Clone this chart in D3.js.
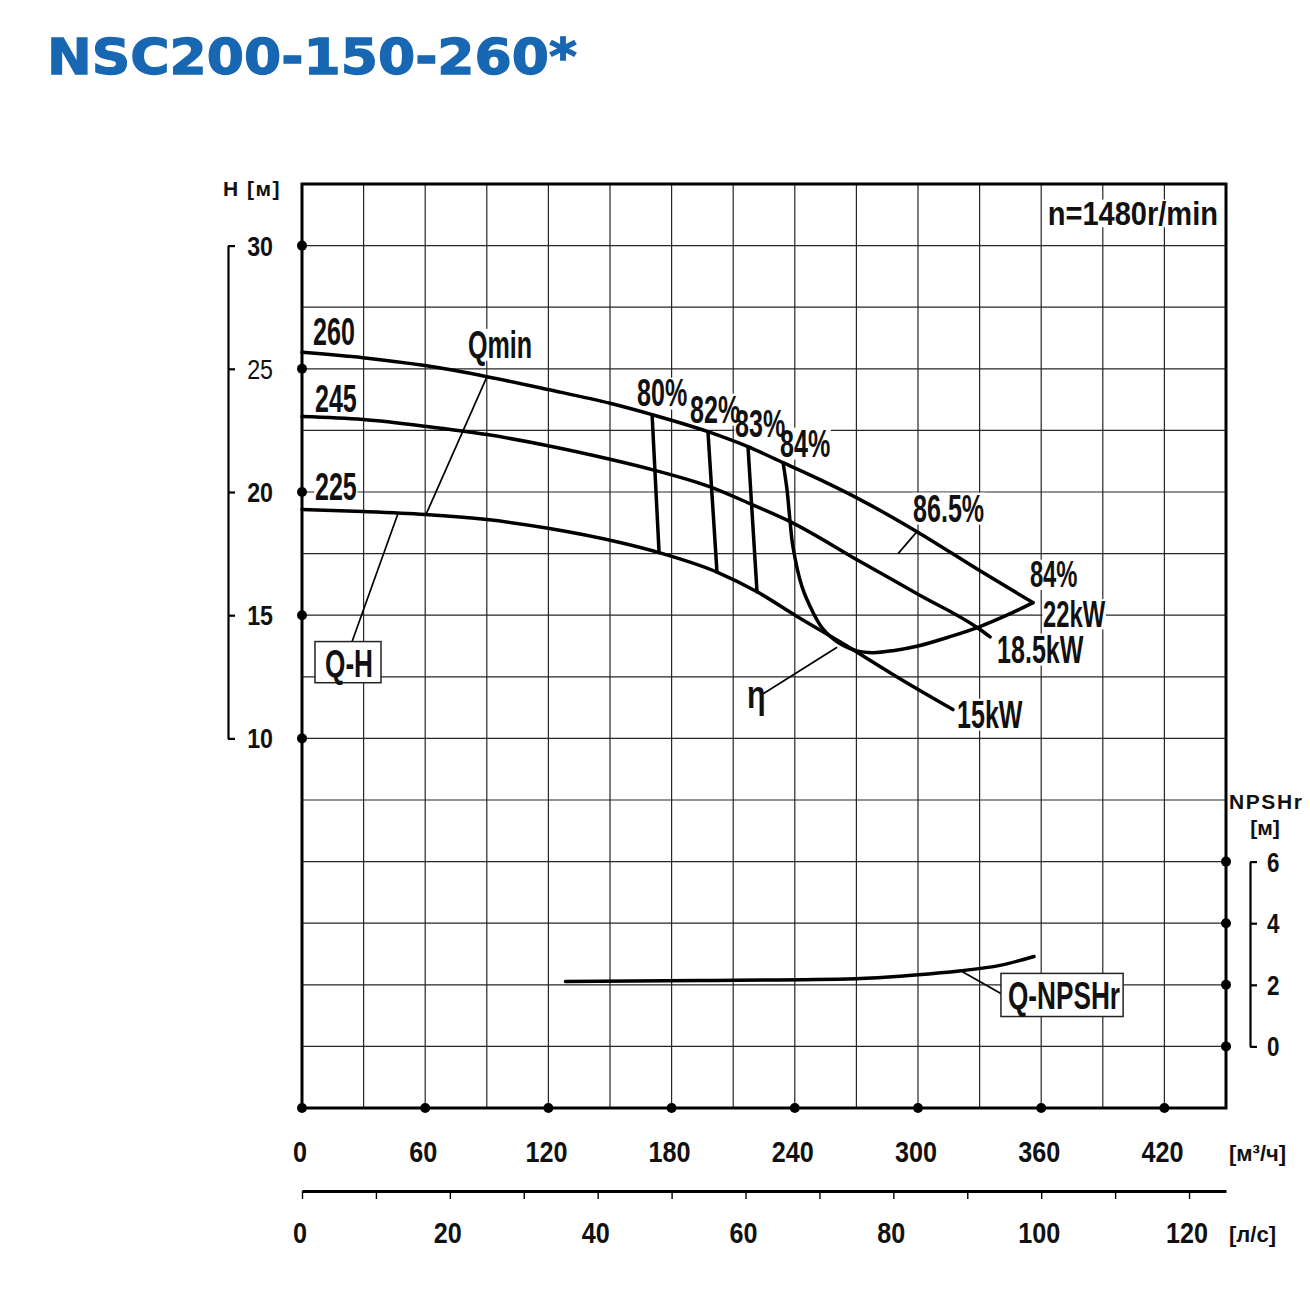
<!DOCTYPE html>
<html lang="ru">
<head>
<meta charset="UTF-8">
<title>NSC200-150-260*</title>
<script src="https://cdnjs.cloudflare.com/ajax/libs/d3/7.8.5/d3.min.js"></script>
<style>
  body { margin: 0; background: #fff; }
  svg text { font-family: "Liberation Sans", Arial, sans-serif; font-weight: bold; fill: #111; }
  .grid line { stroke: #262626; stroke-width: 1.2; }
  .curve { fill: none; stroke: #000; stroke-width: 3.5; stroke-linecap: round; }
  .leader { fill: none; stroke: #000; stroke-width: 1.7; }
</style>
</head>
<body>
<svg id="chart" width="1310" height="1295"></svg>
<script>
// ---- data ----
const qTicks = [0, 60, 120, 180, 240, 300, 360, 420];     // m3/h
const lsTicks = [0, 20, 40, 60, 80, 100, 120];             // l/s
const lsMinor = d3.range(0, 121, 10);
const hTicks = [10, 15, 20, 25, 30];                       // m
const npshTicks = [0, 2, 4, 6];                            // m

// Q-H curves for impeller diameters
const q260 = [0, 29.7, 59.9, 90.1, 119.8, 150.0, 170.5, 197.7, 217.2, 234.3, 252.3, 271.8, 299.5, 330.2, 356.0];
const h260 = [25.67, 25.45, 25.13, 24.68, 24.16, 23.60, 23.14, 22.45, 21.84, 21.19, 20.50, 19.69, 18.39, 16.80, 15.51];
const q245 = [0, 29.7, 59.9, 90.1, 119.8, 150.0, 170.9, 199.7, 219.2, 237.7, 271.8, 300.0, 330.2, 335.1];
const h245 = [23.06, 22.94, 22.67, 22.33, 21.88, 21.33, 20.90, 20.18, 19.49, 18.80, 17.18, 15.85, 14.42, 14.12];
const q225 = [0, 29.7, 59.9, 90.1, 119.8, 154.9, 173.9, 202.1, 221.6, 241.1, 262.0, 291.2, 317.0];
const h225 = [19.29, 19.21, 19.09, 18.88, 18.53, 17.95, 17.54, 16.75, 15.95, 14.95, 13.92, 12.42, 11.17];

// iso-efficiency lines (top point, bottom point)
const effNames = ["80%", "82%", "83%"];
const effQ = [[170.5, 173.9], [197.7, 202.1], [217.2, 221.6]];
const effH = [[23.14, 17.54], [22.45, 16.75], [21.84, 15.95]];

// efficiency curve (84% ... best 86.5% ... 84%)
const qEta = [234.3, 236.2, 237.7, 239.1, 243.5, 248.9, 253.2, 260.6, 270.3, 278.1, 287.8, 300.0, 315.6, 330.2, 343.3, 356.0];
const hEta = [21.19, 20.10, 18.80, 17.78, 16.16, 15.11, 14.50, 13.92, 13.55, 13.48, 13.56, 13.75, 14.13, 14.54, 15.00, 15.51];

// NPSHr curve
const qNpsh = [128.3, 193.8, 269.8, 298.5, 320.0, 339.9, 356.5];
const npsh = [2.11, 2.14, 2.20, 2.32, 2.45, 2.63, 2.92];

// ---- layout ----
const svg = d3.select("#chart");
const x = d3.scaleLinear().domain([0, 450]).range([302, 1226]);
const yH = d3.scaleLinear().domain([-5, 32.5]).range([1108, 184]);
const yN = d3.scaleLinear().domain([-2, 28]).range([1108, 184]);
const xLs = d3.scaleLinear().domain([0, 125]).range([302, 1226]);

// title
svg.append("text")
  .attr("x", 47).attr("y", 74)
  .attr("textLength", 530).attr("lengthAdjust", "spacingAndGlyphs")
  .style("font-family", "'DejaVu Sans', sans-serif")
  .style("font-size", "50px").style("font-weight", "900")
  .style("fill", "#1767b3").style("stroke", "#1767b3").style("stroke-width", 1.3)
  .text("NSC200-150-260*");

const gridLayer = svg.append("g").attr("class", "grid");
const bgLayer = svg.append("g");
const curveLayer = svg.append("g");
const textLayer = svg.append("g");

// grid
gridLayer.selectAll("line.v").data(d3.range(30, 450, 30)).join("line")
  .attr("x1", d => x(d)).attr("x2", d => x(d))
  .attr("y1", yH(32.5)).attr("y2", yH(-5));
gridLayer.selectAll("line.h").data(d3.range(-2.5, 32.5, 2.5)).join("line")
  .attr("x1", x(0)).attr("x2", x(450))
  .attr("y1", d => yH(d)).attr("y2", d => yH(d));

// condensed label helper; background knocks out the grid only
function label(txt, px, py, o) {
  o = Object.assign({ size: 38, sx: 0.66, anchor: "start", bg: true, weight: "bold" }, o);
  const tr = `translate(${px},${py}) scale(${o.sx},1)`;
  const g = textLayer.append("g").attr("transform", tr);
  const t = g.append("text")
    .attr("text-anchor", o.anchor)
    .style("font-size", o.size + "px")
    .style("font-weight", o.weight)
    .text(txt);
  if (o.bg) {
    const b = t.node().getBBox();
    bgLayer.append("rect").attr("transform", tr)
      .attr("x", b.x - 1).attr("width", b.width + 2)
      .attr("y", -0.76 * o.size).attr("height", 0.84 * o.size)
      .attr("fill", "#fff");
  }
  return g;
}

// curves
const smooth = d3.line().curve(d3.curveMonotoneX);
const hPath = (qs, hs) => smooth(qs.map((q, i) => [x(q), yH(hs[i])]));
const straight = d3.line();

[[q260, h260], [q245, h245], [q225, h225]].forEach(([qs, hs]) => {
  curveLayer.append("path").attr("class", "curve").attr("d", hPath(qs, hs));
});
effQ.forEach((qs, i) => {
  curveLayer.append("path").attr("class", "curve")
    .attr("d", straight(qs.map((q, j) => [x(q), yH(effH[i][j])])));
});
curveLayer.append("path").attr("class", "curve")
  .attr("d", d3.line().curve(d3.curveCatmullRom.alpha(0.5))(qEta.map((q, i) => [x(q), yH(hEta[i])])));
curveLayer.append("path").attr("class", "curve")
  .attr("d", smooth(qNpsh.map((q, i) => [x(q), yN(npsh[i])])));

// leaders
const leaders = [
  [[90.1, 24.68], [60.4, 19.09]],   // Qmin
  [[46.8, 19.14], [24.4, 13.93]],   // Q-H
  [[299.5, 18.39], [290.3, 17.5]],  // 86.5%
  [[260.6, 13.70], [224.0, 11.78]]  // eta
];
leaders.forEach(l => {
  curveLayer.append("path").attr("class", "leader")
    .attr("d", straight(l.map(p => [x(p[0]), yH(p[1])])));
});
curveLayer.append("path").attr("class", "leader")
  .attr("d", straight([[x(321), yN(2.45)], [x(341), yN(1.69)]]));

// curve labels
label("260", x(5.4), yH(25.98));
label("245", x(6.3), yH(23.26));
label("225", x(6.3), yH(19.69));
label("Qmin", x(80.8), yH(25.45));
effNames.forEach((n, i) => label(n, x([163.2, 189.0, 210.9][i]), yH([23.47, 22.82, 22.25][i])));
label("84%", x(232.8), yH(21.44));
label("86.5%", x(297.6), yH(18.80));
label("84%", x(354.5), yH(16.14), { size: 36 });
label("22kW", x(360.9), yH(14.54), { size: 36 });
label("18.5kW", x(338.5), yH(13.08));
label("15kW", x(319.0), yH(10.44));
label("η", x(216.7), yH(11.25), { sx: 0.8 });
label("n=1480r/min", x(446.1), yH(30.85), { size: 33, sx: 0.88, anchor: "end" });

// boxed labels
function boxLabel(txt, q0, q1, v0, v1, ys, tq, tv) {
  curveLayer.append("rect")
    .attr("x", x(q0)).attr("y", ys(v0))
    .attr("width", x(q1) - x(q0)).attr("height", ys(v1) - ys(v0))
    .attr("fill", "#fff").attr("stroke", "#222").attr("stroke-width", 1.5);
  label(txt, x(tq), ys(tv), { anchor: "middle", sx: 0.69, bg: false });
}
boxLabel("Q-H", 6.33, 38.47, 13.93, 12.26, yH, 22.9, 12.51);
boxLabel("Q-NPSHr", 340.4, 399.9, 2.37, 0.97, yN, 371.1, 1.20);

// frame
svg.append("rect")
  .attr("x", x(0)).attr("y", yH(32.5))
  .attr("width", x(450) - x(0)).attr("height", yH(-5) - yH(32.5))
  .attr("fill", "none").attr("stroke", "#000").attr("stroke-width", 3);

// axis dots
const dots = svg.append("g").attr("fill", "#000");
dots.selectAll("circle.h").data(hTicks).join("circle")
  .attr("cx", x(0)).attr("cy", d => yH(d)).attr("r", 5);
dots.selectAll("circle.q").data(qTicks).join("circle")
  .attr("cx", d => x(d)).attr("cy", yH(-5)).attr("r", 5);
dots.selectAll("circle.n").data(npshTicks).join("circle")
  .attr("cx", x(450)).attr("cy", d => yN(d)).attr("r", 5);

// left H bracket
const yHbr = d3.scaleLinear().domain([10, 30]).range([yH(10), yH(30)]);
svg.append("g").attr("transform", "translate(228,0)")
  .call(d3.axisRight(yHbr).tickValues(hTicks).tickSizeInner(7).tickSizeOuter(0).tickFormat(""))
  .call(g => g.selectAll("path,line").attr("stroke", "#000").attr("stroke-width", 2.2));
hTicks.forEach(h => label(String(h), 273, yH(h) + 10,
  { size: 28, sx: 0.83, anchor: "end", bg: false, weight: h === 25 ? "normal" : "bold" }));
label("H [м]", 223, 196, { size: 21, sx: 1, bg: false }).select("text").style("letter-spacing", "1.5px");

// right NPSHr bracket
const yNbr = d3.scaleLinear().domain([0, 6]).range([yN(0), yN(6)]);
svg.append("g").attr("transform", "translate(1250,0)")
  .call(d3.axisRight(yNbr).tickValues(npshTicks).tickSizeInner(7).tickSizeOuter(0).tickFormat(""))
  .call(g => g.selectAll("path,line").attr("stroke", "#000").attr("stroke-width", 2.2));
npshTicks.forEach(n => label(String(n), 1267, yN(n) + 10, { size: 28, sx: 0.8, bg: false }));
label("NPSHr", 1229, 809, { size: 21, sx: 1, bg: false }).select("text").style("letter-spacing", "1.6px");
label("[м]", 1265, 835, { size: 21, sx: 1, anchor: "middle", bg: false });

// bottom m3/h labels
qTicks.forEach(q => label(String(q), x(q) - 2, 1162, { size: 30, sx: 0.84, anchor: "middle", bg: false }));
label("[м³/ч]", 1229, 1161, { size: 22, sx: 1, bg: false });

// l/s axis
svg.append("g").attr("transform", "translate(0,1191)")
  .call(d3.axisBottom(xLs).tickValues(lsMinor).tickSizeInner(8).tickSizeOuter(0).tickFormat(""))
  .call(g => g.select(".domain").attr("stroke", "#000").attr("stroke-width", 3))
  .call(g => g.selectAll(".tick line").attr("stroke", "#000").attr("stroke-width", 1.4));
lsTicks.forEach(v => label(String(v), xLs(v) - 2, 1243, { size: 30, sx: 0.84, anchor: "middle", bg: false }));
label("[л/с]", 1229, 1242, { size: 22, sx: 1, bg: false });
</script>
</body>
</html>
